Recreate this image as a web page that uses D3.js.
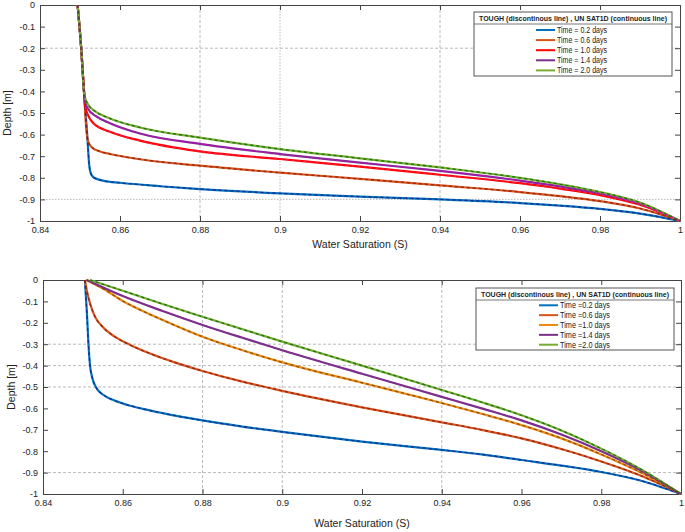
<!DOCTYPE html>
<html><head><meta charset="utf-8">
<script src="https://cdn.jsdelivr.net/npm/d3@7"></script>
<style>
body{margin:0;background:#fff}
svg{display:block}
text{font-family:"Liberation Sans Narrow","Liberation Sans",Arial,sans-serif;fill:#222}
</style>
</head><body>
<svg id="c" width="685" height="532"></svg>
<script>
// ---------- data ----------
const xTicks = [0.84, 0.86, 0.88, 0.9, 0.92, 0.94, 0.96, 0.98, 1.0];
const yTicks = [0, -0.1, -0.2, -0.3, -0.4, -0.5, -0.6, -0.7, -0.8, -0.9, -1];
const xLabel = "Water Saturation (S)";
const yLabel = "Depth [m]";
const legendTitle = "TOUGH (discontinous line) , UN SAT1D (continuous line)";
const topLabels = ["Time = 0.2 days", "Time = 0.6 days", "Time = 1.0 days", "Time = 1.4 days", "Time = 2.0 days"];
const botLabels = ["Time =0.2 days", "Time =0.6 days", "Time =1.0 days", "Time =1.4 days", "Time =2.0 days"];

// top chart: [saturation, depth]
const top02 = [[0.8494,0],[0.8503,-0.2],[0.851,-0.4],[0.8518,-0.6],[0.8523,-0.74],[0.8527,-0.78],[0.8535,-0.8],[0.856,-0.814],[0.86,-0.823],[0.87,-0.839],[0.88,-0.852],[0.9,-0.872],[0.92,-0.887],[0.94,-0.9],[0.96,-0.917],[0.97,-0.929],[0.98,-0.944],[0.99,-0.966],[1.0,-1.0]];
const top06 = [[0.8494,0],[0.8503,-0.2],[0.851,-0.4],[0.8516,-0.58],[0.852,-0.63],[0.853,-0.66],[0.855,-0.678],[0.8575,-0.69],[0.865,-0.714],[0.88,-0.744],[0.9,-0.776],[0.92,-0.805],[0.94,-0.835],[0.96,-0.866],[0.97,-0.885],[0.98,-0.908],[0.99,-0.942],[1.0,-1.0]];
const top10 = [[0.8494,0],[0.8503,-0.2],[0.851,-0.4],[0.8513,-0.47],[0.852,-0.51],[0.8535,-0.55],[0.8575,-0.587],[0.865,-0.628],[0.88,-0.678],[0.9,-0.713],[0.92,-0.748],[0.94,-0.786],[0.96,-0.825],[0.97,-0.85],[0.98,-0.88],[0.99,-0.925],[1.0,-1.0]];
const top14 = [[0.8494,0],[0.8503,-0.2],[0.851,-0.4],[0.8513,-0.45],[0.852,-0.48],[0.854,-0.515],[0.8575,-0.547],[0.865,-0.595],[0.88,-0.643],[0.9,-0.69],[0.92,-0.73],[0.94,-0.768],[0.96,-0.813],[0.97,-0.84],[0.98,-0.872],[0.99,-0.92],[1.0,-1.0]];
const top20 = [[0.8494,0],[0.8503,-0.2],[0.851,-0.4],[0.8513,-0.43],[0.852,-0.46],[0.854,-0.495],[0.8575,-0.525],[0.865,-0.567],[0.88,-0.614],[0.9,-0.667],[0.92,-0.71],[0.94,-0.752],[0.96,-0.8],[0.97,-0.83],[0.98,-0.866],[0.99,-0.915],[1.0,-1.0]];

// bottom chart: [saturation, depth]
const bot02 = [[0.8505,0],[0.851,-0.15],[0.8514,-0.3],[0.8518,-0.4],[0.8524,-0.46],[0.8534,-0.505],[0.855,-0.535],[0.8575,-0.56],[0.861,-0.583],[0.865,-0.602],[0.87,-0.622],[0.88,-0.656],[0.89,-0.685],[0.9,-0.71],[0.92,-0.755],[0.94,-0.794],[0.95,-0.815],[0.96,-0.841],[0.97,-0.867],[0.98,-0.897],[0.99,-0.938],[1.0,-1.0]];
const bot06 = [[0.8505,0],[0.851,-0.05],[0.8518,-0.11],[0.853,-0.17],[0.855,-0.22],[0.858,-0.265],[0.862,-0.305],[0.867,-0.345],[0.873,-0.385],[0.88,-0.425],[0.89,-0.475],[0.9,-0.518],[0.92,-0.595],[0.94,-0.665],[0.95,-0.7],[0.96,-0.74],[0.97,-0.79],[0.98,-0.848],[0.99,-0.915],[1.0,-1.0]];
const bot10 = [[0.8508,0],[0.855,-0.04],[0.86,-0.098],[0.865,-0.145],[0.87,-0.187],[0.88,-0.265],[0.89,-0.328],[0.9,-0.385],[0.92,-0.48],[0.94,-0.575],[0.95,-0.625],[0.96,-0.678],[0.97,-0.74],[0.98,-0.815],[0.99,-0.9],[1.0,-1.0]];
const bot14 = [[0.851,0],[0.86,-0.075],[0.87,-0.145],[0.88,-0.21],[0.89,-0.27],[0.9,-0.328],[0.92,-0.438],[0.94,-0.546],[0.95,-0.6],[0.96,-0.656],[0.97,-0.722],[0.98,-0.8],[0.99,-0.89],[1.0,-1.0]];
const bot20 = [[0.8518,0],[0.86,-0.05],[0.87,-0.112],[0.88,-0.172],[0.9,-0.288],[0.92,-0.4],[0.94,-0.514],[0.95,-0.571],[0.96,-0.632],[0.97,-0.703],[0.98,-0.788],[0.99,-0.885],[1.0,-1.0]];

// ---------- styles ----------
const topColors = ["#0072BD", "#D95319", "#FF0000", "#7E2F8E", "#77AC30"];
const topDash   = ["#1b1f8a", "#8b1c12", "#ff2050", "#cc00cc", "#0b6b0b"];
const botColors = ["#0072BD", "#D95319", "#F08A0C", "#7E2F8E", "#77AC30"];
const botDash   = ["#1b1f8a", "#8b1c12", "#7a4510", "#7E2F8E", "#0b6b0b"];

const svg = d3.select("#c");
const fmt = d => String(+d.toFixed(2));

function chart(o) {
  const g = svg.append("g");
  const x = d3.scaleLinear().domain([0.84, 1.0]).range([o.x0, o.x1]);
  const y = d3.scaleLinear().domain([0, -1]).range([o.y0, o.y1]);

  // grid
  o.vgrid.forEach(v => g.append("line")
    .attr("x1", x(v)).attr("x2", x(v)).attr("y1", o.y0).attr("y2", o.y1)
    .attr("stroke", "#a8a8a8").attr("stroke-width", 0.8).attr("stroke-dasharray", v === 0.9 && o.dot ? "1.5,1.5" : "3,2"));
  o.hgrid.forEach(v => g.append("line")
    .attr("x1", o.x0).attr("x2", o.x1).attr("y1", y(v)).attr("y2", y(v))
    .attr("stroke", "#a8a8a8").attr("stroke-width", 0.8).attr("stroke-dasharray", v === -0.9 && o.dot ? "1.5,1.5" : "3,2"));

  // axes
  const ax = (gen, tr, labels, pad) => {
    const a = g.append("g").attr("transform", tr).call(gen.tickSizeInner(-5).tickSizeOuter(0).tickPadding(labels ? pad : 0).tickFormat(labels ? fmt : ""));
    a.select(".domain").attr("stroke", "#444");
    a.selectAll(".tick line").attr("stroke", "#444");
    a.selectAll("text").attr("font-size", 9).attr("fill", "#222").style("font-family", '"Liberation Sans Narrow","Liberation Sans",Arial,sans-serif');
    return a;
  };
  ax(d3.axisBottom(x).tickValues(xTicks), `translate(0,${o.y1})`, true, 6);
  ax(d3.axisTop(x).tickValues(xTicks), `translate(0,${o.y0})`, false, 0);
  ax(d3.axisLeft(y).tickValues(yTicks), `translate(${o.x0},0)`, true, 5);
  ax(d3.axisRight(y).tickValues(yTicks), `translate(${o.x1},0)`, false, 0);

  // curves
  const line = d3.line().x(d => x(d[0])).y(d => y(d[1])).curve(d3.curveMonotoneX);
  const cg = g.append("g");
  o.series.forEach((s, i) => {
    cg.append("path").attr("d", line(s)).attr("fill", "none")
      .attr("stroke", o.colors[i]).attr("stroke-width", 2.2).attr("stroke-linejoin", "round");
  });
  o.series.forEach((s, i) => {
    cg.append("path").attr("d", line(s)).attr("fill", "none")
      .attr("stroke", o.dash[i]).attr("stroke-width", 1.3).attr("stroke-dasharray", "3,3").attr("opacity", 0.85);
  });

  // axis titles
  g.append("text").attr("x", (o.x0 + o.x1) / 2).attr("y", o.xlabY).attr("text-anchor", "middle")
    .attr("font-size", 10.5).text(xLabel);
  g.append("text").attr("transform", `translate(${o.ylabX},${(o.y0 + o.y1) / 2}) rotate(-90)`)
    .attr("text-anchor", "middle").attr("font-size", 10.5).text(yLabel);

  // legend
  const L = o.leg;
  const lg = g.append("g");
  lg.append("rect").attr("x", L.x).attr("y", L.y).attr("width", L.w).attr("height", L.h)
    .attr("fill", "#fff").attr("stroke", "#555").attr("stroke-width", 1);
  lg.append("line").attr("x1", L.x).attr("x2", L.x + L.w).attr("y1", L.sep).attr("y2", L.sep)
    .attr("stroke", "#555").attr("stroke-width", 0.8);
  lg.append("text").attr("x", L.x + L.w / 2).attr("y", (L.y + L.sep) / 2 + 2.6).attr("text-anchor", "middle")
    .attr("font-size", 7.5).attr("font-weight", "bold").attr("textLength", L.w - 10).attr("lengthAdjust", "spacingAndGlyphs")
    .text(legendTitle);
  o.labels.forEach((t, i) => {
    const cy = L.row0 + i * L.dy;
    lg.append("line").attr("x1", L.lx).attr("x2", L.lx + 19).attr("y1", cy).attr("y2", cy)
      .attr("stroke", o.colors[i]).attr("stroke-width", 2);
    lg.append("text").attr("x", L.lx + 21).attr("y", cy + 3).attr("font-size", 8.5)
      .attr("textLength", 50).attr("lengthAdjust", "spacingAndGlyphs").text(t);
  });
}

chart({
  x0: 40, x1: 680, y0: 5, y1: 221, dot: true,
  vgrid: [0.88, 0.9, 0.94], hgrid: [-0.2, -0.9],
  series: [top02, top06, top10, top14, top20], colors: topColors, dash: topDash, labels: topLabels,
  xlabY: 248, ylabX: 11,
  leg: {x: 474, y: 12, w: 198, h: 64, sep: 24, row0: 30, dy: 10.1, lx: 536}
});
chart({
  x0: 43, x1: 681, y0: 280, y1: 494, dot: false,
  vgrid: [0.88, 0.9, 0.94], hgrid: [-0.3, -0.4, -0.5, -0.9],
  series: [bot02, bot06, bot10, bot14, bot20], colors: botColors, dash: botDash, labels: botLabels,
  xlabY: 527, ylabX: 15,
  leg: {x: 476, y: 288, w: 198, h: 62, sep: 300, row0: 305.3, dy: 9.85, lx: 539}
});
</script>
</body></html>
